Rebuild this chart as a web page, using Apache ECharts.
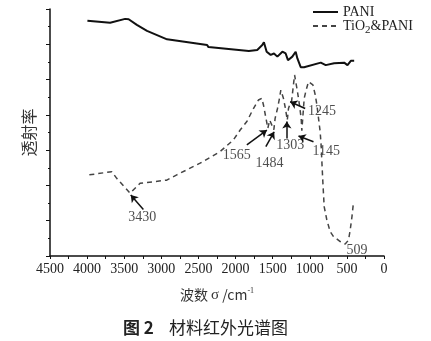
<!DOCTYPE html>
<html><head><meta charset="utf-8">
<script src="https://cdn.jsdelivr.net/npm/echarts@6/dist/echarts.min.js"></script>
<style>html,body{margin:0;padding:0;background:#fff}#c{width:431px;height:341px}</style>
</head><body><div id="c"></div>
<script>
// PANI spectrum
const paniWavenumber = [3996,3690,3487,3440,3330,3193,2923,2383,2365,2350,1821,1708,1640,1618,1581,1527,1482,1437,1369,1325,1294,1235,1190,1167,1122,1077,852,830,785,672,537,492,447,402];
const paniValue      = [66.7,66.1,67.2,67.1,65.5,63.8,61.4,59.8,59.2,59.5,58.1,58.4,59.8,60.6,57.9,57.0,57.4,56.5,57.9,57.4,55.5,56.5,57.9,56.0,53.5,53.5,54.8,55.3,54.1,54.6,54.8,54.1,55.3,55.3];
// TiO2&PANI spectrum
const tioWavenumber = [3970,3668,3601,3421,3287,2927,2792,2478,2208,2029,1938,1848,1759,1692,1646,1624,1590,1565,1540,1511,1484,1467,1435,1408,1390,1355,1328,1303,1287,1265,1245,1205,1166,1139,1116,1107,1075,1049,1017,958,927,904,882,860,846,837,823,806,770,725,680,590,523,509,478,455,432,410];
const tioValue      = [23.0,23.9,22.0,17.8,20.6,21.5,23.0,26.3,29.6,32.9,35.7,38.1,41.8,44.2,44.7,42.8,39.0,36.2,38.5,37.1,35.8,39.0,41.8,44.7,47.0,44.7,41.8,38.5,41.8,43.2,43.9,51.3,46.6,42.8,39.0,35.5,44.7,47.0,49.4,48.5,45.7,42.8,39.0,35.2,31.0,26.7,20.6,14.0,10.2,6.9,5.5,4.1,3.4,3.2,4.5,7.4,11.1,15.4];
// peak annotations
const peakLabels   = ['3430','1565','1484','1303','1145','1245','509'];
const labelWave    = [3257,1983,1543,1264,779,837,365];
const labelValue   = [11.0,28.6,26.4,31.5,29.8,40.9,1.7];
const arrowTailW   = [3242,1848,1592,1309,950,1062];
const arrowTailV   = [13.2,31.5,31.0,33.3,32.4,41.8];
const arrowTipW    = [3412,1578,1480,1309,1152,1264];
const arrowTipV    = [17.3,35.7,35.2,38.1,34.0,43.7];
// axis ticks
const xTickMin = 0, xTickMax = 4500, xTickStep = 500;

const serif = '"Liberation Serif","DejaVu Serif",serif';
const cjk = '"Noto Sans CJK SC","Noto Sans CJK JP",sans-serif';
const chart = echarts.init(document.getElementById('c'), null, {renderer:'canvas'});
const pairs = (a,b) => a.map((v,i)=>[v,b[i]]);
const arrows = arrowTailW.map((w,i)=>[{coord:[w,arrowTailV[i]]},{coord:[arrowTipW[i],arrowTipV[i]]}]);

chart.setOption({
  animation:false,
  backgroundColor:'#fff',
  title:{
    text:'{b|图 2}{a|    材料红外光谱图}',
    left:118, top:314,
    textStyle:{fontWeight:'normal',rich:{
      b:{fontFamily:cjk,fontSize:17,fontWeight:'bold',color:'#222'},
      a:{fontFamily:cjk,fontSize:17,fontWeight:'normal',color:'#222'}
    }}
  },
  legend:{
    orient:'vertical', left:307, top:0, itemWidth:25, itemHeight:14, itemGap:0,
    data:['PANI','TiO2&PANI'],
    itemStyle:{opacity:0},
    formatter:function(n){return n==='PANI'?'{n|PANI}':'{n|TiO}{s|2}{n|&PANI}';},
    textStyle:{rich:{
      n:{fontFamily:serif,fontSize:14,color:'#222'},
      s:{fontFamily:serif,fontSize:11,color:'#222',padding:[9,0,0,0]}
    }}
  },
  grid:{left:50,right:47,top:9,bottom:85},
  xAxis:{
    type:'value', inverse:true, min:xTickMin, max:xTickMax, interval:xTickStep,
    name:'{a|波数 }{g|σ}{a| /cm}{s|-1}', nameLocation:'middle', nameGap:31,
    nameTextStyle:{rich:{
      a:{fontFamily:cjk,fontSize:14,color:'#333'},
      g:{fontFamily:serif,fontSize:15,color:'#333'},
      s:{fontFamily:serif,fontSize:8,color:'#333',padding:[0,0,8,0]}
    }},
    axisLine:{onZero:false,lineStyle:{color:'#111',width:1.5}},
    axisTick:{inside:false,length:3,lineStyle:{color:'#111'}},
    minorTick:{show:true,splitNumber:2,length:3,lineStyle:{color:'#111'}},
    splitLine:{show:false},
    axisLabel:{fontFamily:serif,fontSize:14,color:'#222',margin:6,formatter:function(v){return String(v);}}
  },
  yAxis:{
    type:'value', min:0, max:70, interval:10, position:'left',
    name:'透射率', nameLocation:'middle', nameGap:13, nameRotate:90,
    nameTextStyle:{fontFamily:cjk,fontSize:16,color:'#333'},
    axisLine:{show:true,onZero:false,lineStyle:{color:'#111',width:1.5}},
    axisTick:{show:true,inside:false,length:4,lineStyle:{color:'#111'}},
    minorTick:{show:true,splitNumber:2,length:2,lineStyle:{color:'#111'}},
    splitLine:{show:false},
    axisLabel:{show:false}
  },
  series:[
    {name:'PANI',type:'line',symbol:'none',data:pairs(paniWavenumber,paniValue),
     lineStyle:{color:'#111',width:2},itemStyle:{color:'#111'}},
    {name:'TiO2&PANI',type:'line',symbol:'none',data:pairs(tioWavenumber,tioValue),
     lineStyle:{color:'#444',width:1.5,type:[5,4]},itemStyle:{color:'#444'}},
    {name:'labels',type:'scatter',symbolSize:1,itemStyle:{color:'transparent'},
     data:labelWave.map((w,i)=>({value:[w,labelValue[i]],name:peakLabels[i]})),
     label:{show:true,position:'inside',formatter:'{b}',fontFamily:serif,fontSize:14,color:'#222'},
     markLine:{silent:true,symbol:['none','arrow'],symbolSize:7,
       lineStyle:{color:'#111',width:1.5,type:'solid'},label:{show:false},
       data:arrows}
    }
  ]
});
</script></body></html>
